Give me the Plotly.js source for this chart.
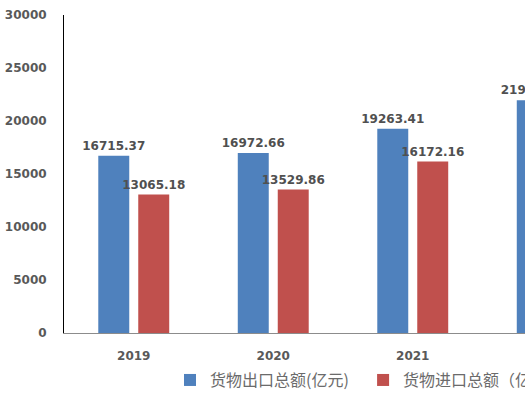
<!DOCTYPE html>
<html>
<head>
<meta charset="utf-8">
<script src="https://cdn.plot.ly/plotly-3.0.1.min.js"></script>
<style>html,body{margin:0;padding:0;background:#fff;overflow:hidden;}#wrap{width:525px;height:395px;overflow:hidden;}#chart{width:660px;height:395px;}</style>
</head>
<body>
<div id="wrap"><div id="chart"></div></div>
<script>
const years = ['2019', '2020', '2021', '2022'];
const exportValues = [16715.37, 16972.66, 19263.41, 21946.27];
const importValues = [13065.18, 13529.86, 16172.16, 17500.00];
const exportName = '货物出口总额(亿元)';
const importName = '货物进口总额（亿元）';
const yTicks = [0, 5000, 10000, 15000, 20000, 25000, 30000];

const labelFont = {family: 'DejaVu Sans, sans-serif', size: 12, color: '#505050', weight: 'bold'};
const tickFont = {family: 'DejaVu Sans, sans-serif', size: 12, color: '#595959', weight: 'bold'};
const legendFont = {family: 'Noto Sans CJK SC, sans-serif', size: 16, color: '#6b6b6b'};

const traces = [
  {
    type: 'bar', name: exportName, x: years, y: exportValues,
    marker: {color: '#4F81BD'},
    text: exportValues.map(v => v.toFixed(2)), textposition: 'outside',
    constraintext: 'none',
    textfont: labelFont, cliponaxis: false, hoverinfo: 'none',
    legend: 'legend'
  },
  {
    type: 'bar', name: importName, x: years, y: importValues,
    marker: {color: '#C0504D'},
    text: importValues.map(v => v.toFixed(2)), textposition: 'outside',
    constraintext: 'none',
    textfont: labelFont, cliponaxis: false, hoverinfo: 'none',
    legend: 'legend2'
  }
];

const layout = {
  width: 660, height: 395,
  margin: {l: 64, r: 38, t: 15, b: 62, autoexpand: false},
  paper_bgcolor: '#ffffff', plot_bgcolor: '#ffffff',
  barmode: 'group', bargap: 0.427, bargroupgap: 0.225,
  showlegend: true,
  legend: {
    orientation: 'h', x: 0.19, xanchor: 'left', y: -0.148, yanchor: 'middle',
    font: legendFont, bgcolor: 'rgba(0,0,0,0)'
  },
  legend2: {
    orientation: 'h', x: 0.536, xanchor: 'left', y: -0.148, yanchor: 'middle',
    font: legendFont, bgcolor: 'rgba(0,0,0,0)'
  },
  xaxis: {
    type: 'category', range: [-0.5, 3.5],
    showline: true, linecolor: '#8c8c8c', linewidth: 1,
    ticks: '', showgrid: false, zeroline: false,
    tickfont: tickFont, ticklabelstandoff: 12
  },
  yaxis: {
    range: [0, 30000], tickvals: yTicks, ticktext: yTicks.map(String),
    showline: true, linecolor: '#000000', linewidth: 1,
    ticks: '', showgrid: false, zeroline: false,
    tickfont: tickFont, ticklabelstandoff: 14
  }
};

Plotly.newPlot('chart', traces, layout, {displayModeBar: false, staticPlot: true});
</script>
</body>
</html>
